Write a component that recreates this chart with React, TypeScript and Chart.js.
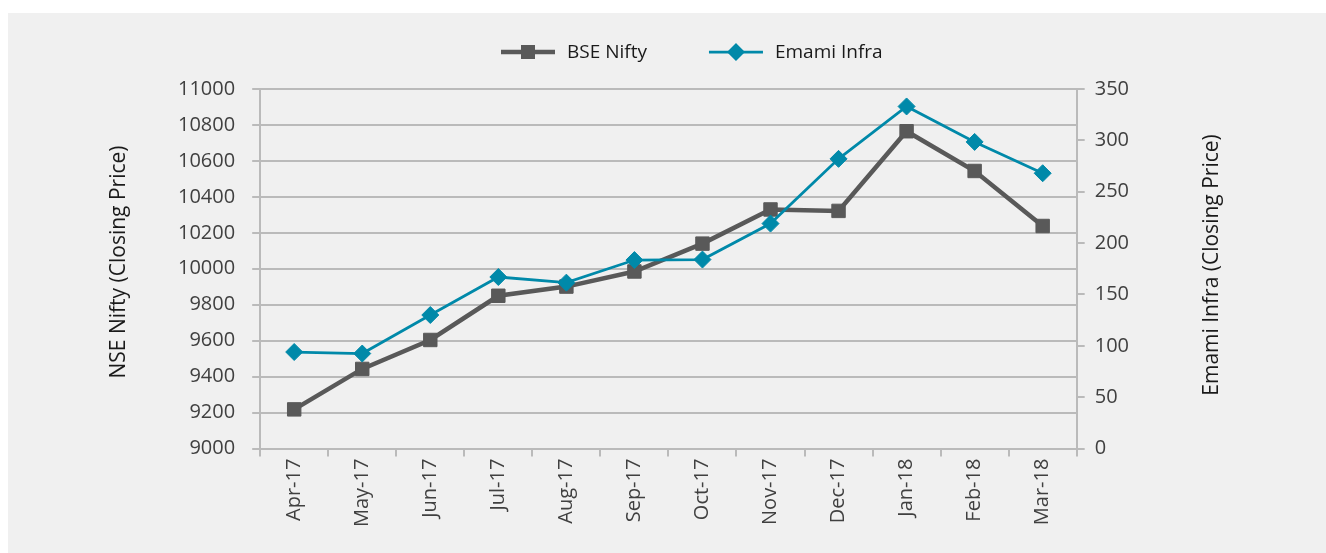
import React, { useEffect, useRef } from "react";
import { Chart, registerables } from "chart.js";

Chart.register(...registerables);

const months = ["Apr-17", "May-17", "Jun-17", "Jul-17", "Aug-17", "Sep-17", "Oct-17", "Nov-17", "Dec-17", "Jan-18", "Feb-18", "Mar-18"];
const bseNifty = [9218, 9443, 9604, 9850, 9901, 9985, 10140, 10330, 10322, 10765, 10544, 10238];
const emamiInfra = [94, 92.5, 130, 167, 161.5, 183.5, 184, 219, 282, 333, 298.5, 268];
const seriesNames = ["BSE Nifty", "Emami Infra"];
const leftTitle = "NSE Nifty (Closing Price)";
const rightTitle = "Emami Infra (Closing Price)";

const GRAY = "#595959";
const TEAL = "#0089a9";
const GRID = "#bababa";
const TICK = "#404040";
const FONT = "'Open Sans', 'Noto Sans', sans-serif";

const customLegend = {
  id: "customLegend",
  afterDraw(chart: any) {
    const ctx = chart.ctx;
    ctx.save();
    ctx.font = `19px ${FONT}`;
    ctx.textBaseline = "middle";
    ctx.textAlign = "left";
    let x = 493;
    const y = 39;
    chart.data.datasets.forEach((ds: any) => {
      ctx.strokeStyle = ds.borderColor;
      ctx.lineWidth = ds.borderWidth;
      ctx.beginPath();
      ctx.moveTo(x, y);
      ctx.lineTo(x + 54, y);
      ctx.stroke();
      ctx.fillStyle = ds.borderColor;
      const cx = x + 27;
      ctx.beginPath();
      if (ds.pointStyle === "rect") {
        ctx.rect(cx - 7, y - 7, 14, 14);
      } else {
        ctx.moveTo(cx - 9, y);
        ctx.lineTo(cx, y - 9);
        ctx.lineTo(cx + 9, y);
        ctx.lineTo(cx, y + 9);
        ctx.closePath();
      }
      ctx.fill();
      ctx.fillStyle = "#1a1a1a";
      ctx.fillText(ds.label, x + 66, y + 1);
      x += 66 + ctx.measureText(ds.label).width + 62;
    });
    ctx.restore();
  },
};

const axisTitlesPlugin = {
  id: "axisTitlesPlugin",
  afterDraw(chart: any) {
    const ctx = chart.ctx;
    ctx.save();
    ctx.font = `21px ${FONT}`;
    ctx.fillStyle = "#1a1a1a";
    ctx.textAlign = "center";
    ctx.textBaseline = "middle";
    ctx.save();
    ctx.translate(111, 249);
    ctx.rotate(-Math.PI / 2);
    ctx.fillText(leftTitle, 0, 0);
    ctx.restore();
    ctx.save();
    ctx.translate(1204, 252);
    ctx.rotate(-Math.PI / 2);
    ctx.fillText(rightTitle, 0, 0);
    ctx.restore();
    ctx.restore();
  },
};

export default function App() {
  const ref = useRef<HTMLCanvasElement | null>(null);

  useEffect(() => {
    if (!ref.current) return;
    const chart = new Chart(ref.current, {
      type: "line",
      data: {
        labels: months,
        datasets: [
          {
            label: seriesNames[0],
            data: bseNifty,
            yAxisID: "y",
            borderColor: GRAY,
            backgroundColor: GRAY,
            borderWidth: 4.5,
            pointStyle: "rect",
            pointRadius: 9.5,
            pointBorderWidth: 1,
            pointBackgroundColor: GRAY,
            pointBorderColor: GRAY,
            tension: 0,
            order: 1,
          },
          {
            label: seriesNames[1],
            data: emamiInfra,
            yAxisID: "y2",
            borderColor: TEAL,
            backgroundColor: TEAL,
            borderWidth: 2.75,
            pointStyle: "rectRot",
            pointRadius: 8.5,
            pointBorderWidth: 1,
            pointBackgroundColor: TEAL,
            pointBorderColor: TEAL,
            tension: 0,
            order: 0,
          },
        ],
      },
      options: {
        responsive: false,
        animation: false,
        layout: { padding: { left: 153, right: 187, top: 76, bottom: 24 } },
        plugins: {
          legend: { display: false },
          tooltip: { enabled: false },
        },
        scales: {
          x: {
            type: "category",
            offset: true,
            grid: {
              display: true,
              drawOnChartArea: false,
              drawTicks: true,
              tickLength: 8,
              offset: true,
              color: GRID,
              lineWidth: 2,
            },
            border: { display: true, color: GRID, width: 2 },
            ticks: {
              color: TICK,
              font: { family: FONT, size: 20 },
              minRotation: 90,
              maxRotation: 90,
              padding: 2,
              autoSkip: false,
            },
          },
          y: {
            position: "left",
            min: 9000,
            max: 11000,
            grid: { color: GRID, lineWidth: 2, tickLength: 8, drawTicks: true },
            border: { display: true, color: GRID, width: 2 },
            ticks: {
              stepSize: 200,
              color: TICK,
              font: { family: FONT, size: 20 },
              padding: 17,
              callback: (v: any) => String(v),
            },
          },
          y2: {
            position: "right",
            min: 0,
            max: 350,
            grid: { drawOnChartArea: false, color: GRID, lineWidth: 2, tickLength: 8, drawTicks: true },
            border: { display: true, color: GRID, width: 2 },
            ticks: {
              stepSize: 50,
              color: TICK,
              font: { family: FONT, size: 20 },
              padding: 10,
              callback: (v: any) => String(v),
            },
          },
        },
      },
      plugins: [customLegend, axisTitlesPlugin],
    });
    return () => chart.destroy();
  }, []);

  return (
    <div
      style={{
        position: "absolute",
        left: 8,
        top: 13,
        width: 1318,
        height: 540,
        background: "#f0f0f0",
      }}
    >
      <canvas ref={ref} width={1318} height={540} style={{ display: "block" }} />
    </div>
  );
}
